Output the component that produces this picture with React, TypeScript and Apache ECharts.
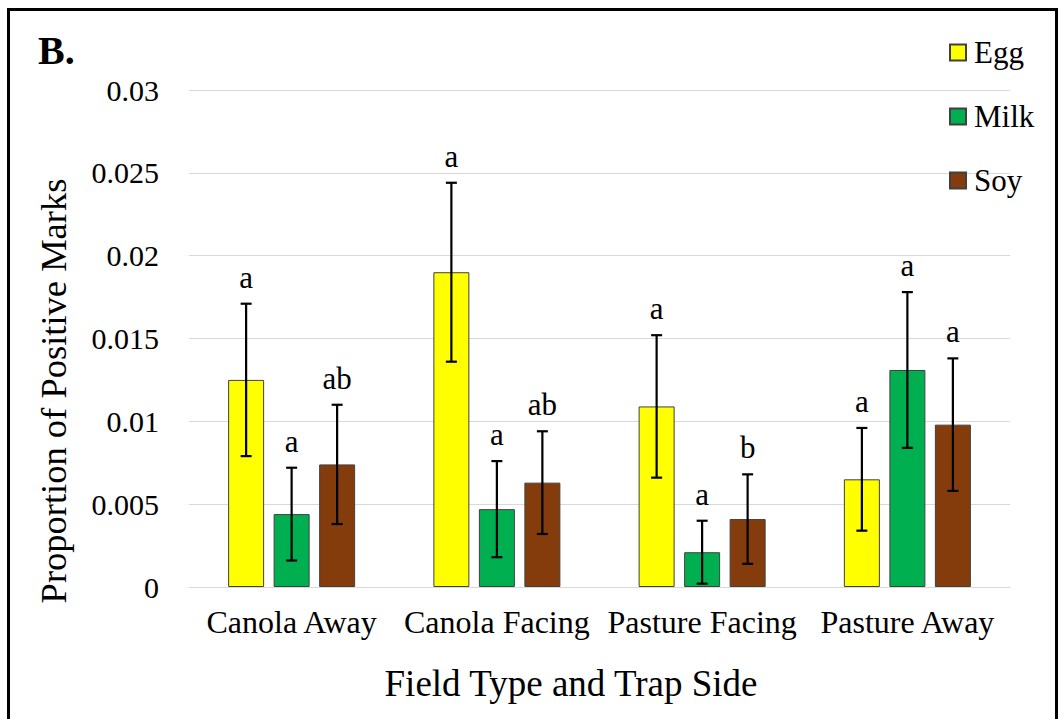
import React, { useEffect, useRef } from "react";
import * as echarts from "echarts";

// Mean proportion of positive marks per field type / trap side
const categories = ["Canola Away", "Canola Facing", "Pasture Facing", "Pasture Away"];
const eggMeans = [0.0125, 0.019, 0.0109, 0.0065];
const milkMeans = [0.0044, 0.0047, 0.0021, 0.0131];
const soyMeans = [0.0074, 0.0063, 0.0041, 0.0098];

// Standard error (half-length of each error bar)
const eggErr = [0.0046, 0.0054, 0.0043, 0.0031];
const milkErr = [0.0028, 0.0029, 0.0019, 0.0047];
const soyErr = [0.0036, 0.0031, 0.0027, 0.004];

// Significance letters
const eggLetters = ["a", "a", "a", "a"];
const milkLetters = ["a", "a", "a", "a"];
const soyLetters = ["ab", "ab", "b", "a"];

const yTicks = [0, 0.005, 0.01, 0.015, 0.02, 0.025, 0.03];

const FONT = "Liberation Serif";
const BAR_W = 36;
const BAR_GAP_PX = 9.5;

const groups = [
  { name: "Egg", color: "#FFFF00", means: eggMeans, err: eggErr, letters: eggLetters },
  { name: "Milk", color: "#00B050", means: milkMeans, err: milkErr, letters: milkLetters },
  { name: "Soy", color: "#843C0C", means: soyMeans, err: soyErr, letters: soyLetters },
];

export default function App() {
  const ref = useRef<HTMLDivElement>(null);

  useEffect(() => {
    if (!ref.current) return;
    const chart = echarts.init(ref.current, undefined, { renderer: "svg" });

    const barSeries = groups.map((g) => ({
      name: g.name,
      type: "bar",
      data: g.means,
      barWidth: BAR_W,
      barGap: `${((BAR_GAP_PX / BAR_W) * 100).toFixed(1)}%`,
      itemStyle: { color: g.color, borderColor: "#404040", borderWidth: 1 },
      z: 2,
    }));

    const errSeries = groups.map((g, gi) => ({
      type: "custom",
      z: 5,
      silent: true,
      data: g.means.map((m, i) => [i, m - g.err[i], m + g.err[i]]),
      renderItem: (params: any, api: any) => {
        const idx = api.value(0);
        const offset = (gi - 1) * (BAR_W + BAR_GAP_PX);
        const x = api.coord([idx, 0])[0] + offset;
        const yLo = api.coord([idx, api.value(1)])[1];
        const yHi = api.coord([idx, api.value(2)])[1];
        const cap = 5.5;
        const lineStyle = { stroke: "#000", lineWidth: 2.2 };
        return {
          type: "group",
          children: [
            { type: "line", shape: { x1: x, y1: yLo, x2: x, y2: yHi }, style: lineStyle },
            { type: "line", shape: { x1: x - cap, y1: yHi, x2: x + cap, y2: yHi }, style: lineStyle },
            { type: "line", shape: { x1: x - cap, y1: yLo, x2: x + cap, y2: yLo }, style: lineStyle },
            {
              type: "text",
              x: x,
              y: yHi - 11,
              style: {
                text: g.letters[params.dataIndex],
                fill: "#000",
                fontFamily: FONT,
                fontSize: 31,
                align: "center",
                verticalAlign: "bottom",
              },
            },
          ],
        };
      },
    }));

    chart.setOption({
      animation: false,
      backgroundColor: "#fff",
      textStyle: { fontFamily: FONT },
      grid: { left: 189, right: 52, top: 90, bottom: 132, containLabel: false },
      legend: {
        data: groups.map((g) => g.name),
        orient: "vertical",
        left: 944,
        top: 32,
        itemWidth: 16,
        itemHeight: 16,
        itemGap: 33,
        icon: "rect",
        textStyle: { fontFamily: FONT, fontSize: 31, color: "#000", padding: [0, 0, 0, 3] },
      },
      xAxis: {
        type: "category",
        data: categories,
        axisLine: { show: true, lineStyle: { color: "#d9d9d9", width: 1 } },
        axisTick: { show: false },
        axisLabel: { fontFamily: FONT, fontSize: 32, color: "#000", margin: 19, interval: 0 },
      },
      yAxis: {
        type: "value",
        min: yTicks[0],
        max: yTicks[yTicks.length - 1],
        interval: yTicks[1] - yTicks[0],
        axisLine: { show: false },
        axisTick: { show: false },
        splitLine: { lineStyle: { color: "#d9d9d9", width: 1 } },
        axisLabel: {
          fontFamily: FONT,
          fontSize: 30,
          color: "#000",
          margin: 30,
          formatter: (v: number) => String(+v.toFixed(3)),
        },
      },
      graphic: [
        {
          type: "rect",
          shape: { x: 8.5, y: 9.5, width: 1048, height: 800 },
          style: { fill: "none", stroke: "#000", lineWidth: 3 },
          silent: true,
        },
        {
          type: "text",
          left: 38,
          top: 30,
          style: { text: "B.", fontFamily: FONT, fontWeight: "bold", fontSize: 40, fill: "#000" },
        },
        {
          type: "text",
          x: 53,
          y: 391,
          rotation: Math.PI / 2,
          style: {
            text: "Proportion of Positive Marks",
            fontFamily: FONT,
            fontSize: 36.5,
            fill: "#000",
            align: "center",
            verticalAlign: "middle",
          },
        },
        {
          type: "text",
          x: 571,
          y: 683,
          style: {
            text: "Field Type and Trap Side",
            fontFamily: FONT,
            fontSize: 37,
            fill: "#000",
            align: "center",
            verticalAlign: "middle",
          },
        },
      ],
      series: [...barSeries, ...errSeries],
    });

    return () => chart.dispose();
  }, []);

  return (
    <div
      ref={ref}
      style={{ position: "absolute", left: 0, top: 0, width: 1062, height: 719 }}
    />
  );
}
